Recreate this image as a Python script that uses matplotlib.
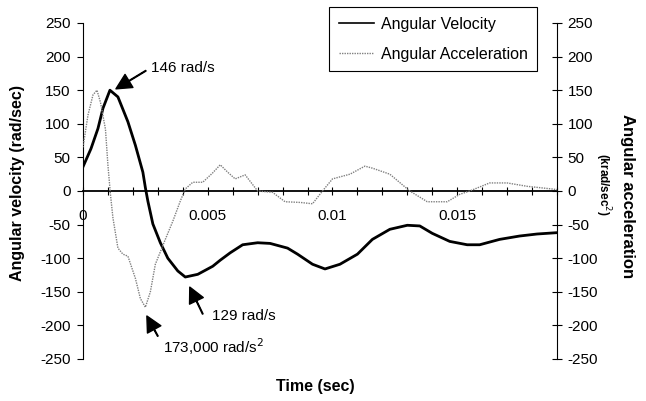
import matplotlib
matplotlib.use("Agg")
import matplotlib.pyplot as plt
from matplotlib.ticker import FixedLocator, MultipleLocator, FuncFormatter

plt.rcParams['font.family'] = ['Liberation Sans', 'DejaVu Sans']
plt.rcParams['axes.unicode_minus'] = False

# Angular velocity (rad/sec)
vel_t = [0, 0.00032, 0.0006, 0.0008, 0.00108, 0.0014, 0.0018, 0.0021, 0.0024, 0.0025,
         0.0026, 0.0028, 0.0031, 0.0034, 0.0038, 0.0041, 0.0046, 0.0049, 0.0052, 0.0055,
         0.0059, 0.0064, 0.007, 0.0075, 0.0082, 0.0086, 0.0092, 0.0097, 0.0103, 0.011,
         0.0116, 0.0123, 0.013, 0.0135, 0.014, 0.0147, 0.0154, 0.0159, 0.0167, 0.0175,
         0.0182, 0.019]
vel_v = [36, 63, 93, 123, 150, 140, 103, 68, 28, 5,
         -15, -49, -77, -100, -119, -128, -124, -118, -112, -103,
         -92, -80, -77, -78, -85, -94, -109, -116, -109, -94,
         -72, -57, -51, -52, -63, -75, -80, -80, -72, -67,
         -64, -62]

# Angular acceleration (krad/sec^2)
acc_t = [0, 0.0002, 0.0004, 0.00056, 0.0007, 0.0009, 0.001, 0.0011, 0.0012, 0.0014,
         0.0016, 0.0018, 0.0021, 0.0023, 0.0025, 0.0027, 0.0029, 0.0033, 0.0036, 0.0039,
         0.0041, 0.0044, 0.0048, 0.0052, 0.0055, 0.0058, 0.0061, 0.0065, 0.007, 0.0076,
         0.0081, 0.0087, 0.0092, 0.0096, 0.01, 0.0107, 0.0113, 0.0116, 0.0123, 0.0131,
         0.0138, 0.0146, 0.0151, 0.0155, 0.0163, 0.017, 0.0178, 0.0188, 0.019]
acc_v = [65, 113, 143, 150, 132, 92, 38, -5, -40, -85,
         -94, -97, -130, -160, -173, -150, -109, -72, -45, -15,
         3, 13, 13, 27, 39, 28, 18, 24, 0, -2,
         -16, -17, -19, 0, 18, 25, 37, 34, 25, 0,
         -16, -16, -5, 0, 12, 12, 7, 3, 2]

y_ticks = [-250, -200, -150, -100, -50, 0, 50, 100, 150, 200, 250]
x_major = [0, 0.005, 0.01, 0.015]

fig = plt.figure(figsize=(6.46, 4.01), dpi=100)
ax = fig.add_axes([83/646, 1-359/401, (557-83)/646, (359-23)/401])
ax2 = ax.twinx()

ax.plot(vel_t, vel_v, color='black', lw=2.0, label='Angular Velocity', zorder=3)
ax2.plot(acc_t, acc_v, color='#808080', lw=1.0, ls=(0, (1, 0.8)), label='Angular Acceleration')

for a in (ax, ax2):
    a.set_ylim(-250, 250)
    a.set_xlim(0, 0.019)
    a.set_yticks(y_ticks)
    a.spines['top'].set_visible(False)
    a.patch.set_visible(False)

ax.spines['right'].set_visible(False)
ax.spines['bottom'].set_position(('data', 0))
ax.spines['bottom'].set_linewidth(1.3)
ax.spines['left'].set_linewidth(0.8)
ax2.spines['left'].set_visible(False)
ax2.spines['bottom'].set_visible(False)
ax2.spines['right'].set_linewidth(0.8)

ax.xaxis.set_major_locator(FixedLocator(x_major))
ax.xaxis.set_minor_locator(MultipleLocator(0.001))
ax.xaxis.set_major_formatter(FuncFormatter(lambda v, p: '%g' % v))
ax.tick_params(axis='x', which='both', direction='inout', length=6, width=0.8,
               labelsize=11, pad=10)
ax.tick_params(axis='y', direction='out', length=4, width=0.8, labelsize=11, pad=5)
ax2.tick_params(axis='y', direction='inout', length=7, width=0.8, labelsize=11, pad=4)

ax.yaxis.set_major_formatter(FuncFormatter(lambda v, p: '%d' % v))
ax2.yaxis.set_major_formatter(FuncFormatter(lambda v, p: '%d' % v))

# labels
fig.text(18/646, 1-183/401, 'Angular velocity (rad/sec)', rotation=90, fontsize=11.5,
         fontweight='bold', ha='center', va='center')
fig.text(315/646, 1-387/401, 'Time (sec)', fontsize=11.5, fontweight='bold',
         ha='center', va='center')
fig.text(627/646, 1-196/401, 'Angular acceleration', rotation=270, fontsize=12,
         fontweight='bold', ha='center', va='center')
fig.text(603/646, 1-184/401, '(krad/sec$^{2}$)', rotation=270, fontsize=8.5,
         fontweight='bold', ha='center', va='center')

# annotations
arrow = dict(facecolor='black', edgecolor='black', width=0.5, headwidth=11,
             headlength=11, shrink=0)
ax.annotate('', xy=(0.00132, 152), xytext=(0.00252, 179), arrowprops=arrow)
ax.text(0.00272, 183, '146 rad/s', fontsize=11, va='center', ha='left')
ax.annotate('', xy=(0.00428, -143), xytext=(0.0048, -183), arrowprops=arrow)
ax.text(0.00516, -186, '129 rad/s', fontsize=11, va='center', ha='left')
ax.annotate('', xy=(0.00256, -186), xytext=(0.003, -216), arrowprops=arrow)
ax.text(0.0032, -231, '173,000 rad/s$^{2}$', fontsize=11, va='center', ha='left')

h1, l1 = ax.get_legend_handles_labels()
h2, l2 = ax2.get_legend_handles_labels()
leg = fig.legend(h1 + h2, l1 + l2, loc='upper right',
                 bbox_to_anchor=(537/646, 1-7/401), borderaxespad=0,
                 fontsize=11.5, frameon=True, fancybox=False, framealpha=1,
                 edgecolor='black', handlelength=2.2, handletextpad=0.4,
                 labelspacing=0.95, borderpad=0.6)
leg.get_frame().set_linewidth(0.8)
leg.legend_handles[0].set_linewidth(1.2)

fig.savefig('out.png', dpi=100)
